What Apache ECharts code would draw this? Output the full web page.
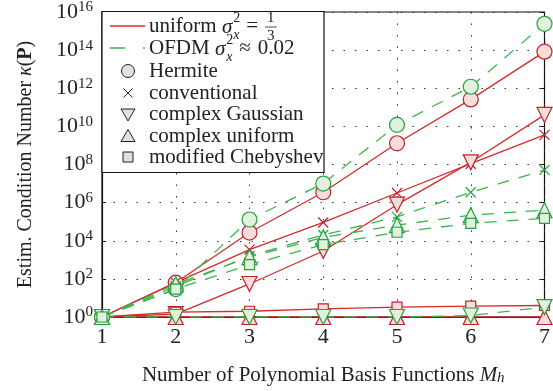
<!DOCTYPE html>
<html>
<head>
<meta charset="utf-8">
<script src="https://cdn.jsdelivr.net/npm/echarts@6/dist/echarts.min.js"></script>
<style>
  html, body { margin: 0; padding: 0; background: #fff; }
  #main { width: 553px; height: 391px; }
</style>
</head>
<body>
<div id="main"></div>
<script>
// x positions: number of polynomial basis functions
var basisCounts = [1, 2, 3, 4, 5, 6, 7];
var yTickExps = [0, 2, 4, 6, 8, 10, 12, 14, 16];

// uniform sigma_x^2 = 1/3  (red, solid)
var uniHermite   = [1, 6.3e1, 2.7e4, 3.5e6, 1.3e9, 2.6e11, 8.3e13];
var uniConv      = [1, 6.3e1, 3.4e3, 9.1e4, 3.2e6, 1.1e8, 3.6e9];
var uniCGauss    = [1, 1.4, 5.4e1, 2.9e3, 7.8e5, 1.3e8, 4.0e10];
var uniCUniform  = [1, 1, 1, 1, 1, 1, 1];
var uniChebyshev = [1, 1.8, 2.0, 2.7, 3.3, 3.7, 4.0];

// OFDM sigma_x^2 ~ 0.02  (green, dashed)
var ofdmHermite   = [1, 2.9e1, 1.3e5, 1.0e7, 1.2e10, 1.2e12, 2.4e15];
var ofdmConv      = [1, 4.0e1, 1.6e3, 2.0e4, 1.8e5, 3.5e6, 5.2e7];
var ofdmCGauss    = [1, 1, 1, 1, 1, 1.2, 3.3];
var ofdmCUniform  = [1, 5.2e1, 1.4e3, 1.5e4, 6.6e4, 2.2e5, 4.0e5];
var ofdmChebyshev = [1, 2.9e1, 5.6e2, 6.2e3, 2.8e4, 8.1e4, 1.5e5];

var RED = '#d62a2c', RED_EDGE = '#b8252b', RED_FILL = '#f9dcdc';
var GREEN = '#3cb54a', GREEN_EDGE = '#26a041', GREEN_FILL = '#e2f1de';
var FONT = '"Liberation Serif", "DejaVu Serif", serif';
var CROSS = 'path://M0,0L10,10M0,10L10,0';

var chart = echarts.init(document.getElementById('main'), null, { renderer: 'canvas' });

function zip(vals) {
  return basisCounts.map(function (x, i) { return [x, vals[i]]; });
}

function mkSeries(name, vals, family, symbol) {
  var red = family === 'red';
  return {
    name: name,
    type: 'line',
    data: zip(vals),
    symbol: symbol,
    symbolSize: symbol === 'rect' ? 10 : (symbol === CROSS ? 10 : 15),
    symbolRotate: 0,
    showAllSymbol: true,
    silent: true,
    z: red ? 2 : 3,
    lineStyle: {
      color: red ? RED : GREEN,
      width: 1.3,
      type: red ? 'solid' : [12, 10]
    },
    itemStyle: {
      color: symbol === CROSS ? 'none' : (red ? RED_FILL : GREEN_FILL),
      borderColor: red ? RED_EDGE : GREEN_EDGE,
      borderWidth: 1.2,
      opacity: 1
    },
    emphasis: { disabled: true }
  };
}

var series = [
  mkSeries('uniform Hermite', uniHermite, 'red', 'circle'),
  mkSeries('uniform conventional', uniConv, 'red', CROSS),
  mkSeries('uniform complex Gaussian', uniCGauss, 'red', 'triangle'),
  mkSeries('uniform complex uniform', uniCUniform, 'red', 'triangle'),
  mkSeries('uniform modified Chebyshev', uniChebyshev, 'red', 'rect'),
  mkSeries('OFDM Hermite', ofdmHermite, 'green', 'circle'),
  mkSeries('OFDM conventional', ofdmConv, 'green', CROSS),
  mkSeries('OFDM complex Gaussian', ofdmCGauss, 'green', 'triangle'),
  mkSeries('OFDM complex uniform', ofdmCUniform, 'green', 'triangle'),
  mkSeries('OFDM modified Chebyshev', ofdmChebyshev, 'green', 'rect')
];
// complex Gaussian uses downward triangles
series[2].symbolRotate = 180;
series[7].symbolRotate = 180;

// ---- legend drawn by hand (mixed line samples and marker-only entries)
var mctx = document.createElement('canvas').getContext('2d');
function tw(text, font) { mctx.font = font; return mctx.measureText(text).width; }
function fnt(size, style) { return (style ? style + ' ' : '') + size + 'px ' + FONT; }

function txt(text, x, y, font, align) {
  return {
    type: 'text', z: 101,
    style: {
      text: text, x: x, y: y, font: font, fill: '#222',
      align: align || 'left', verticalAlign: 'middle',
      textAlign: align || 'left', textVerticalAlign: 'middle'
    }
  };
}

var LF = 21;
var LX = 102, LY = 11.5, LW = 222, LH = 161;
var rowY = [26, 48, 71, 93, 114.5, 136, 157];
var sampleX1 = 110, sampleX2 = 145, mx = 128, tx = 149;
var legendEls = [];
legendEls.push({
  type: 'rect', z: 100,
  shape: { x: LX, y: LY, width: LW, height: LH },
  style: { fill: '#fff', stroke: '#111', lineWidth: 1.2 }
});

function sigmaTerm(x, y, relText, rhsFn) {
  var els = [];
  els.push(txt('σ', x, y + 1, fnt(LF, 'italic')));
  x += tw('σ', fnt(LF, 'italic')) + 1;
  els.push(txt('2', x, y - 8, fnt(14)));
  els.push(txt('x', x, y + 9, fnt(14, 'italic')));
  x += Math.max(tw('2', fnt(14)), tw('x', fnt(14, 'italic'))) + 6;
  els.push(txt(relText, x, y, fnt(LF)));
  x += tw(relText, fnt(LF)) + 7;
  return els.concat(rhsFn(x, y));
}

// row 1: uniform
legendEls.push({ type: 'line', z: 101, shape: { x1: sampleX1, y1: rowY[0], x2: sampleX2, y2: rowY[0] },
  style: { stroke: RED, lineWidth: 1.3 } });
(function () {
  var x = tx;
  legendEls.push(txt('uniform', x, rowY[0], fnt(LF)));
  x += tw('uniform ', fnt(LF));
  legendEls = legendEls.concat(sigmaTerm(x, rowY[0], '=', function (fx, fy) {
    var w = tw('1', fnt(15));
    return [
      txt('1', fx + 2, fy - 8, fnt(15)),
      { type: 'line', z: 101, shape: { x1: fx, y1: fy + 1, x2: fx + w + 4, y2: fy + 1 }, style: { stroke: '#222', lineWidth: 0.8 } },
      txt('3', fx + 2, fy + 10, fnt(15))
    ];
  }));
})();

// row 2: OFDM
legendEls.push({ type: 'line', z: 101, shape: { x1: sampleX1, y1: rowY[1], x2: sampleX2, y2: rowY[1] },
  style: { stroke: GREEN, lineWidth: 1.3, lineDash: [15, 18] } });
(function () {
  var x = tx;
  legendEls.push(txt('OFDM', x, rowY[1], fnt(LF)));
  x += tw('OFDM ', fnt(LF));
  legendEls = legendEls.concat(sigmaTerm(x, rowY[1], '≈', function (fx, fy) {
    return [txt('0.02', fx, fy, fnt(LF))];
  }));
})();

var mkStyle = { fill: '#e0e0e0', stroke: '#222', lineWidth: 1 };
// Hermite
legendEls.push({ type: 'circle', z: 101, shape: { cx: mx, cy: rowY[2], r: 6.5 }, style: mkStyle });
// conventional
legendEls.push({ type: 'polyline', z: 101, shape: { points: [[mx - 4.5, rowY[3] - 4.5], [mx + 4.5, rowY[3] + 4.5]] }, style: { stroke: '#222', lineWidth: 1, fill: null } });
legendEls.push({ type: 'polyline', z: 101, shape: { points: [[mx - 4.5, rowY[3] + 4.5], [mx + 4.5, rowY[3] - 4.5]] }, style: { stroke: '#222', lineWidth: 1, fill: null } });
// complex Gaussian (down)
legendEls.push({ type: 'polygon', z: 101, shape: { points: [[mx - 7, rowY[4] - 5.5], [mx + 7, rowY[4] - 5.5], [mx, rowY[4] + 6.5]] }, style: mkStyle });
// complex uniform (up)
legendEls.push({ type: 'polygon', z: 101, shape: { points: [[mx - 7, rowY[5] + 5.5], [mx + 7, rowY[5] + 5.5], [mx, rowY[5] - 6.5]] }, style: mkStyle });
// modified Chebyshev
legendEls.push({ type: 'rect', z: 101, shape: { x: mx - 5, y: rowY[6] - 5, width: 10, height: 10 }, style: mkStyle });

var legendNames = ['Hermite', 'conventional', 'complex Gaussian', 'complex uniform', 'modified Chebyshev'];
legendNames.forEach(function (n, i) {
  legendEls.push(txt(n, tx, rowY[i + 2], fnt(LF)));
});

var dotted = { show: true, lineStyle: { color: '#333', width: 1, type: [1.5, 10] } };

var option = {
  animation: false,
  backgroundColor: '#fff',
  grid: {
    left: 102, right: 8, top: 11, bottom: 71,
    show: true, borderColor: '#111', borderWidth: 1.2, backgroundColor: 'transparent'
  },
  xAxis: {
    type: 'value',
    min: 1, max: 7, interval: 1,
    name: '{n|Number of Polynomial Basis Functions }{i|M}{s|h}',
    nameLocation: 'middle',
    nameGap: 47,
    nameTextStyle: {
      rich: {
        n: { fontFamily: FONT, fontSize: 21, color: '#222' },
        i: { fontFamily: FONT, fontSize: 21, fontStyle: 'italic', color: '#222' },
        s: { fontFamily: FONT, fontSize: 15, fontStyle: 'italic', color: '#222', verticalAlign: 'bottom', padding: [7, 0, 0, 0] }
      }
    },
    axisLine: { show: true, lineStyle: { color: '#111', width: 1.2 } },
    axisTick: { show: true, inside: true, length: 4, lineStyle: { color: '#111' } },
    axisLabel: { fontFamily: FONT, fontSize: 22, color: '#222', margin: 9 },
    splitLine: dotted
  },
  yAxis: [{
    type: 'log',
    logBase: 10,
    min: 1, max: 1e16, interval: 2,
    name: '{n|Estim. Condition Number }{i|κ}{n|(}{b|P}{n|)}',
    nameLocation: 'middle',
    nameRotate: 90,
    nameGap: 66,
    nameTextStyle: {
      rich: {
        n: { fontFamily: FONT, fontSize: 20, color: '#222' },
        i: { fontFamily: FONT, fontSize: 20, fontStyle: 'italic', color: '#222' },
        b: { fontFamily: FONT, fontSize: 20, fontWeight: 'bold', color: '#222' }
      }
    },
    axisLine: { show: true, lineStyle: { color: '#111', width: 1.2 } },
    axisTick: { show: true, inside: true, length: 4, lineStyle: { color: '#111' } },
    axisLabel: {
      margin: 9,
      formatter: function (v) {
        var e = Math.round(Math.log10(v));
        return '{b|10}{s|' + e + '}';
      },
      rich: {
        b: { fontFamily: FONT, fontSize: 22, color: '#222', lineHeight: 24 },
        s: { fontFamily: FONT, fontSize: 15, color: '#222', verticalAlign: 'top', lineHeight: 24, padding: [0, 0, 7, 0] }
      }
    },
    splitLine: dotted
  }, {
    type: 'log',
    logBase: 10,
    min: 1, max: 1e16, interval: 2,
    position: 'right',
    axisLine: { show: false },
    axisTick: { show: true, inside: true, length: 4, lineStyle: { color: '#111' } },
    axisLabel: { show: false },
    splitLine: { show: false }
  }],
  graphic: legendEls,
  series: series
};

chart.setOption(option);
</script>
</body>
</html>
